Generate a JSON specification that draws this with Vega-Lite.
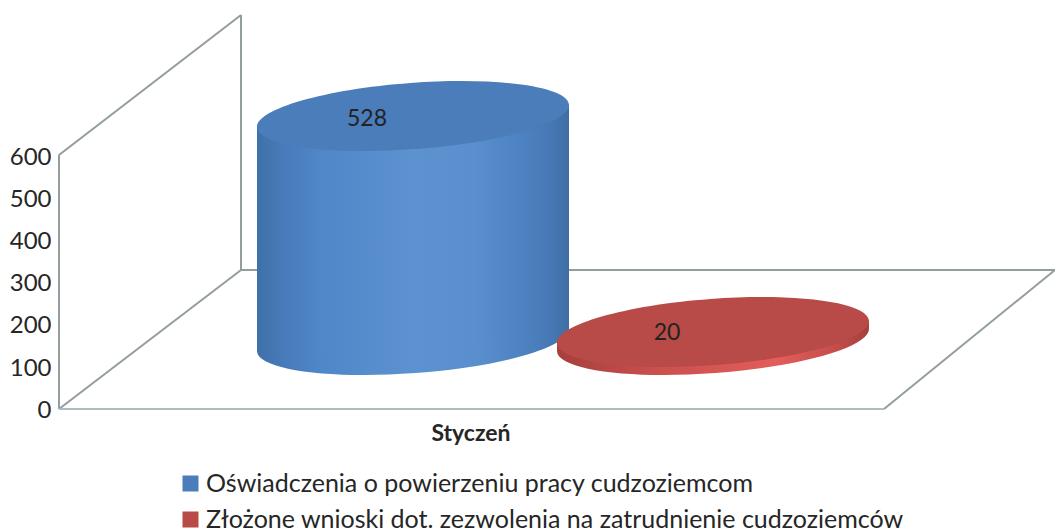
{
"$schema":"https://vega.github.io/schema/vega-lite/v6.json",
"width":998,"height":532,
"autosize":{"type":"none"},
"padding":{"left":57,"top":0,"right":0,"bottom":0},
"background":"white",
"config":{"view":{"stroke":null},"font":"Lato"},
"datasets":{
"frame":[
{"x":59,"x2":59,"y":607,"y2":2.4,"edge":"wall"},
{"x":59,"x2":241,"y":607,"y2":940.5,"edge":"wall"},
{"x":241,"x2":241,"y":940.5,"y2":333.3,"edge":"wall"},
{"x":59,"x2":241,"y":2.4,"y2":333.3,"edge":"wall"},
{"x":241,"x2":1055,"y":333.3,"y2":333.3,"edge":"wall"},
{"x":884,"x2":1055,"y":2.4,"y2":333.3,"edge":"wall"},
{"x":59,"x2":884,"y":2.4,"y2":2.4,"edge":"front"}
],
"cyl":[
{"series":"Oświadczenia o powierzeniu pracy cudzoziemcom","value":528,"cx":413,"top":700,"base":166.7,"lx":367,"ly":693},
{"series":"Złożone wnioski dot. zezwolenia na zatrudnienie cudzoziemców","value":20,"cx":713,"top":185.7,"base":166.7,"lx":667,"ly":183}
],
"body":[
{"series":"blue","x":257,"top":674,"base":140},
{"series":"blue","x":569,"top":726,"base":192},
{"series":"red","x":557,"top":160,"base":141},
{"series":"red","x":869,"top":212,"base":193}
],
"caption":[{"label":"Styczeń","x":471,"y":-57}]
},
"encoding":{
"x":{"type":"quantitative","scale":{"domain":[57,1055],"range":[0,998],"nice":false,"zero":false},"axis":null},
"y":{"type":"quantitative","scale":{"domain":[-290.476,976.19],"nice":false,"zero":false}}
},
"layer":[
{"data":{"name":"frame"},"mark":{"type":"rule","strokeWidth":2},
 "encoding":{"x":{"field":"x","type":"quantitative"},"x2":{"field":"x2"},
 "y":{"field":"y","type":"quantitative","axis":{"values":[0,100,200,300,400,500,600],"domain":false,"ticks":false,"grid":false,"title":null,"labelFont":"Lato","labelFontSize":24,"labelColor":"#262626","labelPadding":6}},
 "y2":{"field":"y2"},
 "stroke":{"field":"edge","type":"nominal","scale":{"domain":["wall","front"],"range":["#939d9e","#aebcbf"]},"legend":null}}},
{"data":{"name":"cyl"},"transform":[{"filter":"datum.value==528"}],
 "mark":{"type":"point","filled":true,"opacity":1,"angle":-4.2,"size":97844,"shape":"M-1,0C-1,-.117 -.552,-.212 0,-.212C.552,-.212 1,-.117 1,0C1,.117 .552,.212 0,.212C-.552,.212 -1,.117 -1,0Z",
 "color":{"x1":0,"x2":1,"y1":0,"y2":0,"gradient":"linear","stops":[{"offset":0,"color":"#3f70a9"},{"offset":0.08,"color":"#477ab8"},{"offset":0.2,"color":"#4f87c8"},{"offset":0.5,"color":"#5d92d0"},{"offset":0.7,"color":"#5a8fce"},{"offset":0.85,"color":"#4d82c2"},{"offset":0.94,"color":"#4678b4"},{"offset":1,"color":"#3e6ea4"}]}},
 "encoding":{"x":{"field":"cx","type":"quantitative"},"y":{"field":"base","type":"quantitative"}}},
{"data":{"name":"body"},"transform":[{"filter":"datum.series=='blue'"}],
 "mark":{"type":"area","color":{"x1":0,"x2":1,"y1":0,"y2":0,"gradient":"linear","stops":[{"offset":0,"color":"#3f70a9"},{"offset":0.08,"color":"#477ab8"},{"offset":0.2,"color":"#4f87c8"},{"offset":0.5,"color":"#5d92d0"},{"offset":0.7,"color":"#5a8fce"},{"offset":0.85,"color":"#4d82c2"},{"offset":0.94,"color":"#4678b4"},{"offset":1,"color":"#3e6ea4"}]}},
 "encoding":{"x":{"field":"x","type":"quantitative"},"y":{"field":"top","type":"quantitative"},"y2":{"field":"base"}}},
{"data":{"name":"cyl"},"transform":[{"filter":"datum.value==20"}],
 "mark":{"type":"point","filled":true,"opacity":1,"angle":-4.2,"size":97844,"shape":"M-1,0C-1,-.117 -.552,-.212 0,-.212C.552,-.212 1,-.117 1,0C1,.117 .552,.212 0,.212C-.552,.212 -1,.117 -1,0Z",
 "color":{"x1":0,"x2":1,"y1":0,"y2":0,"gradient":"linear","stops":[{"offset":0,"color":"#a53f3d"},{"offset":0.3,"color":"#c94f4d"},{"offset":0.7,"color":"#e35d5b"},{"offset":0.9,"color":"#c24c4a"},{"offset":1,"color":"#a33f3d"}]}},
 "encoding":{"x":{"field":"cx","type":"quantitative"},"y":{"field":"base","type":"quantitative"}}},
{"data":{"name":"body"},"transform":[{"filter":"datum.series=='red'"}],
 "mark":{"type":"area","color":"#a8423f"},
 "encoding":{"x":{"field":"x","type":"quantitative"},"y":{"field":"top","type":"quantitative"},"y2":{"field":"base"}}},
{"data":{"name":"cyl"},
 "mark":{"type":"point","filled":true,"opacity":1,"angle":-4.2,"size":97844,"shape":"M-1,0C-1,-.117 -.552,-.212 0,-.212C.552,-.212 1,-.117 1,0C1,.117 .552,.212 0,.212C-.552,.212 -1,.117 -1,0Z"},
 "encoding":{"x":{"field":"cx","type":"quantitative"},"y":{"field":"top","type":"quantitative"},
 "color":{"field":"series","type":"nominal","sort":null,"scale":{"domain":["Oświadczenia o powierzeniu pracy cudzoziemcom","Złożone wnioski dot. zezwolenia na zatrudnienie cudzoziemców"],"range":["#4a7db9","#b84a48"]},
 "legend":{"orient":"none","legendX":121,"legendY":471,"title":null,"symbolType":"square","symbolSize":256,"symbolStrokeWidth":0,"labelFont":"Lato","labelFontSize":25,"labelColor":"#262626","labelLimit":900,"rowPadding":10,"labelOffset":3,"padding":0}}}},
{"data":{"name":"cyl"},"mark":{"type":"text","font":"Lato","fontSize":23,"color":"#222222"},
 "encoding":{"x":{"field":"lx","type":"quantitative"},"y":{"field":"ly","type":"quantitative"},"text":{"field":"value","type":"quantitative"}}},
{"data":{"name":"caption"},"mark":{"type":"text","font":"Lato","fontSize":23,"fontWeight":"bold","color":"#262626"},
 "encoding":{"x":{"field":"x","type":"quantitative"},"y":{"field":"y","type":"quantitative"},"text":{"field":"label"}}}
]
}
